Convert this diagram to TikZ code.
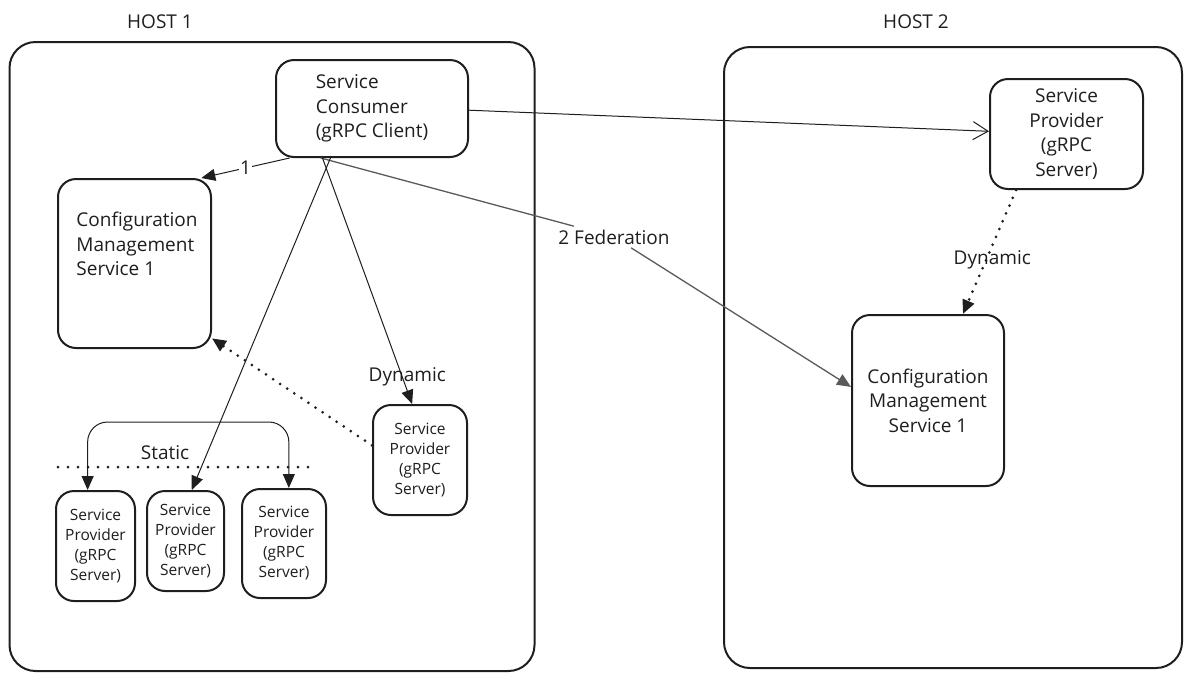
\documentclass[tikz,border=0pt]{standalone}
\usepackage{fontspec}
\setmainfont{Open Sans}
\usetikzlibrary{arrows.meta,calc}
\definecolor{ink}{HTML}{1E1E1E}
\definecolor{fedgray}{HTML}{5A5A5A}
\begin{document}
\begin{tikzpicture}[x=1pt,y=-1pt,
  host/.style={draw=ink, line width=2pt, rounded corners=26pt, inner sep=0pt},
  box/.style={draw=ink, line width=2pt, rounded corners=18pt, inner sep=0pt},
  big/.style={font=\fontsize{19}{24.5}\selectfont, text=ink},
  small/.style={font=\fontsize{15.5}{20}\selectfont, text=ink},
  conn/.style={draw=ink, line width=1pt, -{Triangle[length=14pt,width=12pt]}},
  fedline/.style={draw=fedgray, line width=1.3pt, -{Triangle[length=14pt,width=12pt]}},
  dotconn/.style={draw=ink, line width=3pt, dash pattern=on 0pt off 8.5pt, line cap=round, -{Triangle[length=14pt,width=12pt]}},
  dotline/.style={draw=ink, line width=3pt, dash pattern=on 0pt off 10pt, line cap=round}
]
\useasboundingbox (0,0) rectangle (1188,681);

% hosts
\node[host, minimum width=525pt, minimum height=629pt] (h1) at (272,356.5) {};
\node[host, minimum width=458pt, minimum height=621pt] (h2) at (953,357.5) {};
\node[big] (h1lab) at (160,22) {HOST 1};
\node[big] (h2lab) at (916,22) {HOST 2};

% host 1
\node[box, big, align=left, minimum width=192pt, minimum height=97pt] (cons) at (372,108.5) {Service\\Consumer\\(gRPC Client)};
\node[box, minimum width=153pt, minimum height=169pt] (cms1) at (134.5,263.5) {};
\node[big, align=left, inner sep=0pt] (cms1t) at (137,244) {Configuration\\Management\\Service 1};
\node[box, small, align=center, minimum width=94pt, minimum height=110pt] (spd) at (420,460) {Service\\Provider\\(gRPC\\Server)};
\node[box, small, align=center, minimum width=79pt, minimum height=110pt] (sp1) at (95.5,546) {Service\\Provider\\(gRPC\\Server)};
\node[box, small, align=center, minimum width=77pt, minimum height=100pt] (sp2) at (185.5,541) {Service\\Provider\\(gRPC\\Server)};
\node[box, small, align=center, minimum width=84pt, minimum height=109pt] (sp3) at (284,543.5) {Service\\Provider\\(gRPC\\Server)};

% host 2
\node[box, big, align=center, minimum width=153pt, minimum height=110pt] (sph2) at (1066.5,134) {Service\\Provider\\(gRPC\\Server)};
\node[box, big, align=center, minimum width=152pt, minimum height=171pt] (cms2) at (928,400.5) {Configuration\\Management\\Service 1};

% connectors
\draw[conn] (cons.211) -- node[big, fill=white, inner sep=1pt] (one) {1} (cms1.52.5);
\node[big] (fed) at (614,237) {2 Federation};
\draw[fedline] (cons.224.7) -- (fed) -- (cms2.170.5);
\draw[conn] (cons.230.2) -- (sp2.83);
\draw[conn] (cons.225.9) -- node[pos=0.89, xshift=5pt, big] (dyn1) {Dynamic} (spd.98);
\draw[draw=ink, line width=1pt, -{Straight Barb[length=15pt,width=18pt]}] (cons.359) -- (sph2.178.4);
\draw[dotconn] (sph2.228.5) -- node[pos=0.56, xshift=6pt, big] (dyn2) {Dynamic} (cms2.68.3);
\draw[dotconn] (spd.163) -- (cms1.316);

% static group
\coordinate (sl) at (58,467);
\coordinate (sr) at (310,467);
\draw[dotline] (sl) -- (sr);
\node[big] (static) at (165,453) {Static};
\coordinate (bracetop) at (190,422);
\draw[draw=ink, line width=1pt, rounded corners=20pt, {Triangle[length=14pt,width=12pt]}-{Triangle[length=14pt,width=12pt]}] (sp1.98) |- (bracetop) -| (sp3.85);
\end{tikzpicture}
\end{document}
